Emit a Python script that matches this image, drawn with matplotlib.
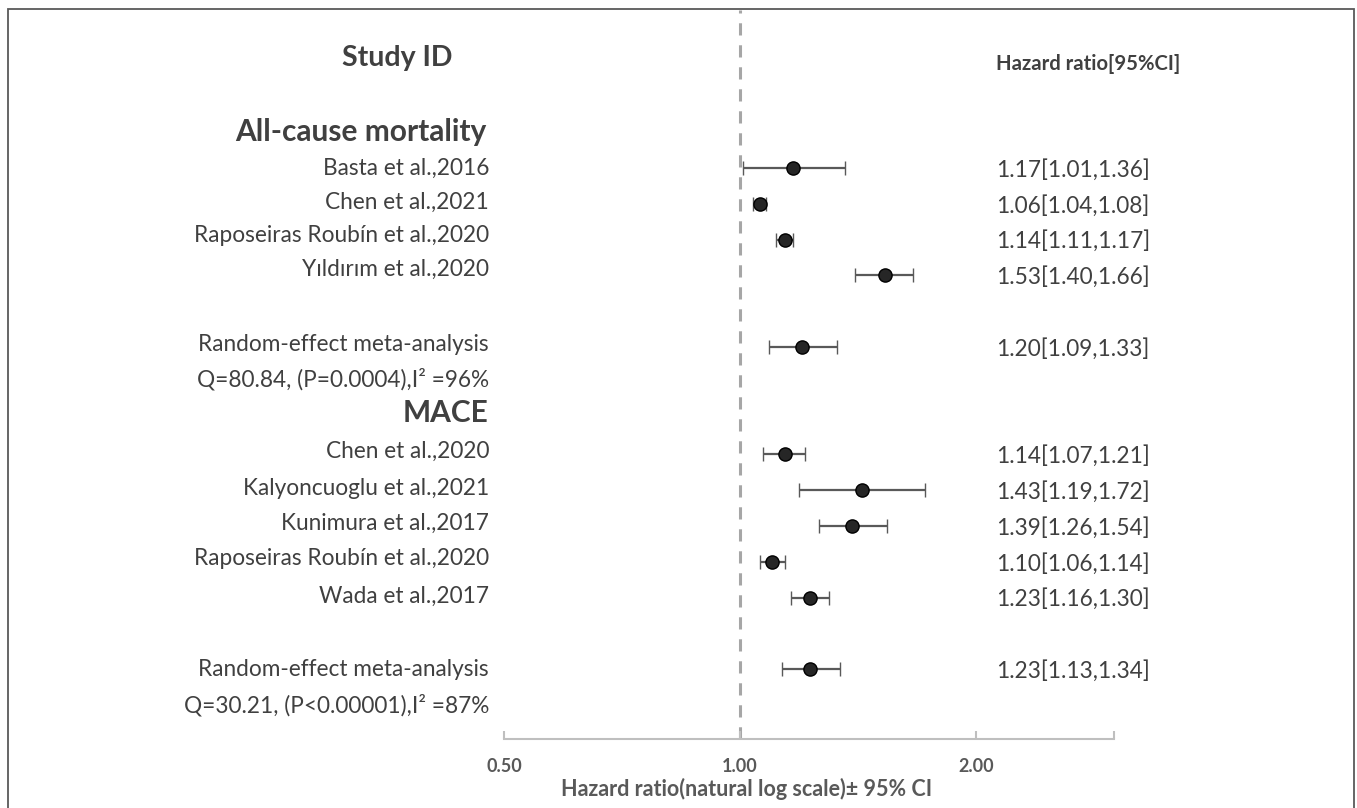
import matplotlib
matplotlib.use('Agg')
import matplotlib.pyplot as plt
import matplotlib.transforms as mtransforms
from matplotlib.patches import Rectangle

plt.rcParams['font.family'] = ['Lato', 'DejaVu Sans']

# data
acm_studies = ['Basta et al.,2016', 'Chen et al.,2021', 'Raposeiras Roubín et al.,2020', 'Yıldırım et al.,2020']
acm_hr = [1.17, 1.06, 1.14, 1.53]
acm_lo = [1.01, 1.04, 1.11, 1.40]
acm_hi = [1.36, 1.08, 1.17, 1.66]
acm_pooled = [1.20, 1.09, 1.33]
acm_stats = 'Q=80.84, (P=0.0004),I² =96%'

mace_studies = ['Chen et al.,2020', 'Kalyoncuoglu et al.,2021', 'Kunimura et al.,2017',
                'Raposeiras Roubín et al.,2020', 'Wada et al.,2017']
mace_hr = [1.14, 1.43, 1.39, 1.10, 1.23]
mace_lo = [1.07, 1.19, 1.26, 1.06, 1.16]
mace_hi = [1.21, 1.72, 1.54, 1.14, 1.30]
mace_pooled = [1.23, 1.13, 1.34]
mace_stats = 'Q=30.21, (P<0.00001),I² =87%'

x_ticks = [0.5, 1.0, 2.0, 3.0]
x_ticklabels = ['0.50', '1.00', '2.00', '']

# row layout (marker rows and text rows)
acm_rows = [0, 1, 2, 3]
acm_pool_row = 5
mace_rows = [8, 9, 10, 11, 12]
mace_pool_row = 14
acm_name_rows = [0.0, 0.97, 1.9, 2.82]
mace_name_rows = [7.93, 8.94, 9.94, 10.92, 11.96]

txt_col = '#404040'
ax_col = '#595959'

W, H = 1357, 808
fig = plt.figure(figsize=(W / 100, H / 100), dpi=100)
ax = fig.add_axes([504 / W, 1 - 739 / H, (1114 - 504) / W, (739 - 10) / H])

ax.set_xscale('log')
ax.set_xlim(0.5, 3.0)
ax.set_ylim(15.95, -4.41)

rows = acm_rows + [acm_pool_row] + mace_rows + [mace_pool_row]
hr = acm_hr + [acm_pooled[0]] + mace_hr + [mace_pooled[0]]
lo = acm_lo + [acm_pooled[1]] + mace_lo + [mace_pooled[1]]
hi = acm_hi + [acm_pooled[2]] + mace_hi + [mace_pooled[2]]
err = [[h - l for h, l in zip(hr, lo)], [u - h for h, u in zip(hr, hi)]]

ax.axvline(1.0, color='#A6A6A6', lw=2.2, ls=(0, (4, 3.2)), zorder=1)
ax.errorbar(hr, rows, xerr=err, fmt='o', color=ax_col, ecolor=ax_col, elinewidth=1.6,
            capsize=5, capthick=1.6, markersize=9.5, markerfacecolor='#262626',
            markeredgecolor='#000000', markeredgewidth=1.0, zorder=3)

for s in ['top', 'right', 'left']:
    ax.spines[s].set_visible(False)
ax.spines['bottom'].set_color('#BFBFBF')
ax.spines['bottom'].set_linewidth(1.5)
ax.set_yticks([])
ax.xaxis.set_minor_locator(matplotlib.ticker.NullLocator())
ax.set_xticks(x_ticks)
ax.set_xticklabels(x_ticklabels, fontsize=13, fontweight='bold', color=ax_col)
ax.tick_params(axis='x', direction='in', length=6, width=1.5, color='#BFBFBF', pad=14)
fig.text(747 / W, 1 - 789 / H, 'Hazard ratio(natural log scale)± 95% CI', fontsize=15.5,
         fontweight='bold', color=ax_col, ha='center', va='center')

# text columns: x in figure pixels, y in data rows
tr = mtransforms.blended_transform_factory(fig.transFigure, ax.transData)
xl = 489 / W
xr = 996 / W

fig.text(397 / W, 1 - 58 / H, 'Study ID', fontsize=20.5, fontweight='bold', color=txt_col,
         ha='center', va='center')
fig.text(xr, 1 - 64 / H, 'Hazard ratio[95%CI]', fontsize=14.6, fontweight='bold', color=txt_col,
         ha='left', va='center')

ax.text(486 / W, -1.0, 'All-cause mortality', transform=tr, fontsize=21.5, fontweight='bold',
        color=txt_col, ha='right', va='center')
ax.text(488 / W, 6.84, 'MACE', transform=tr, fontsize=21.5, fontweight='bold',
        color=txt_col, ha='right', va='center')

names = acm_studies + ['Random-effect meta-analysis'] + mace_studies + ['Random-effect meta-analysis']
name_rows = acm_name_rows + [4.94] + mace_name_rows + [14.0]
for nm, r in zip(names, name_rows):
    ax.text(xl, r, nm, transform=tr, fontsize=16.3, color=txt_col, ha='right', va='center')
ax.text(xl, 5.89, acm_stats, transform=tr, fontsize=16.3, color=txt_col, ha='right', va='center')
ax.text(xl, 15.0, mace_stats, transform=tr, fontsize=16.3, color=txt_col, ha='right', va='center')

for r, h, l, u in zip(rows, hr, lo, hi):
    ax.text(xr, r + 0.05, f'{h:.2f}[{l:.2f},{u:.2f}]', transform=tr, fontsize=16.3,
            color=txt_col, ha='left', va='center')

# outer frame
fig.patches.append(Rectangle((8 / W, -2 / H), (1354 - 8) / W, (808 - 9 + 2) / H,
                             transform=fig.transFigure, fill=False, edgecolor='#595959', lw=1.3))

fig.savefig('out.png', dpi=100)
